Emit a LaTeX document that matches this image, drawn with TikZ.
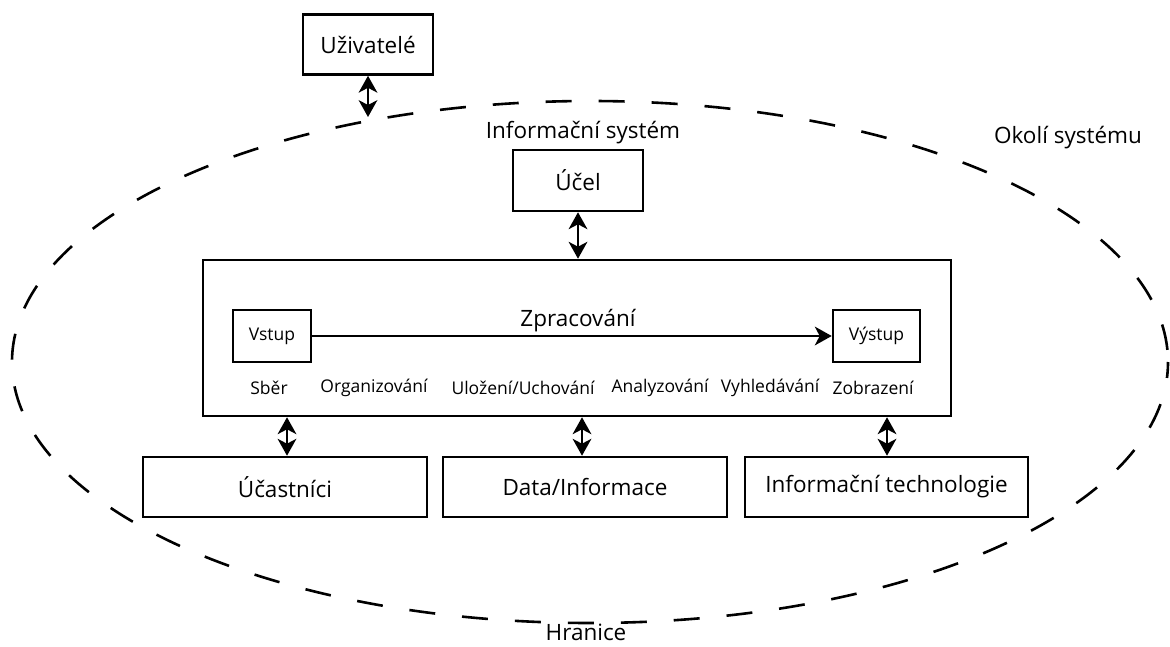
\documentclass[tikz,border=0pt]{standalone}
\usepackage{fontspec}
\setmainfont{Open Sans}
\usetikzlibrary{arrows.meta,calc}
\tikzset{
  box/.style={draw,line width=2.6pt,minimum width=#1,minimum height=60pt,inner sep=0pt,font=\fontsize{22.5}{26}\selectfont},
  sbox/.style={draw,line width=2.6pt,inner sep=0pt,font=\fontsize{17.5}{20}\selectfont},
  lbl/.style={font=\fontsize{17.5}{20}\selectfont,inner sep=0pt},
  big/.style={font=\fontsize{22.5}{26}\selectfont,inner sep=0pt},
  dbl/.style={line width=2.8pt,shorten <=12pt,shorten >=12pt},
  one/.style={line width=2.4pt,shorten >=12pt}
}
% filled stealth-like head at #2, coming from #1
\newcommand{\headat}[2]{%
  \fill ($(#2)!17pt!(#1)!9.5pt!90:(#2)$) -- (#2) -- ($(#2)!17pt!(#1)!9.5pt!-90:(#2)$) -- ($(#2)!12pt!(#1)$) -- cycle;}
\begin{document}
\begin{tikzpicture}[x=1pt,y=-1pt]
\useasboundingbox (0,0) rectangle (1170,647);
% boundary
\draw[line width=2.6pt,dash pattern=on 26pt off 27pt,dash phase=10pt] (590,362) ellipse [x radius=578,y radius=261];
\coordinate (bnd) at (368,117);
% texts
\node[big] (is) at (583,133) {Informační systém};
\node[big] (okoli) at (1068,138) {Okolí systému};
\node[big] (hr) at (586,632) {Hranice};
% boxes
\node[box=130pt,minimum height=60pt] (uz) at (368,44.5) {Uživatelé};
\node[box=130pt,minimum height=61pt] (ucel) at (578,180.5) {Účel};
\node[draw,line width=2.6pt,minimum width=748pt,minimum height=156pt,inner sep=0pt] (main) at (577,338) {};
\node[sbox,minimum width=78pt,minimum height=52pt] (vst) at (272,336) {Vstup};
\node[sbox,minimum width=87pt,minimum height=52pt] (vys) at (876.5,336) {Výstup};
\node[big] (zpr) at (578,321) {Zpracování};
\node[lbl] (sb) at (269,388) {Sběr};
\node[lbl] (org) at (374,388) {Organizování};
\node[lbl] (ulo) at (523,388) {Uložení/Uchování};
\node[lbl] (ana) at (660,388) {Analyzování};
\node[lbl] (vyh) at (770,388) {Vyhledávání};
\node[lbl] (zob) at (873,388) {Zobrazení};
\node[box=284pt] (uc) at (285,487) {Účastníci};
\node[box=284pt] (data) at (585,487) {Data/Informace};
\node[box=283pt] (it) at (886.5,487) {Informační technologie};
% connector end points
\coordinate (a1) at (uz.south);
\coordinate (b1) at (bnd);
\coordinate (a2) at (ucel.south);
\coordinate (b2) at (ucel.south |- main.north);
\coordinate (a3) at (vst.east);
\coordinate (b3) at (vys.west);
\coordinate (a4) at (main.south -| 287,0);
\coordinate (b4) at (uc.north -| 287,0);
\coordinate (a5) at (main.south -| 582,0);
\coordinate (b5) at (data.north -| 582,0);
\coordinate (a6) at (main.south -| 887,0);
\coordinate (b6) at (it.north -| 887,0);
% connectors
\draw[dbl] (a1) -- (b1); \headat{a1}{b1}\headat{b1}{a1}
\draw[dbl] (a2) -- (b2); \headat{a2}{b2}\headat{b2}{a2}
\draw[one] (a3) -- (b3); \headat{a3}{b3}
\draw[dbl] (a4) -- (b4); \headat{a4}{b4}\headat{b4}{a4}
\draw[dbl] (a5) -- (b5); \headat{a5}{b5}\headat{b5}{a5}
\draw[dbl] (a6) -- (b6); \headat{a6}{b6}\headat{b6}{a6}
\end{tikzpicture}
\end{document}
